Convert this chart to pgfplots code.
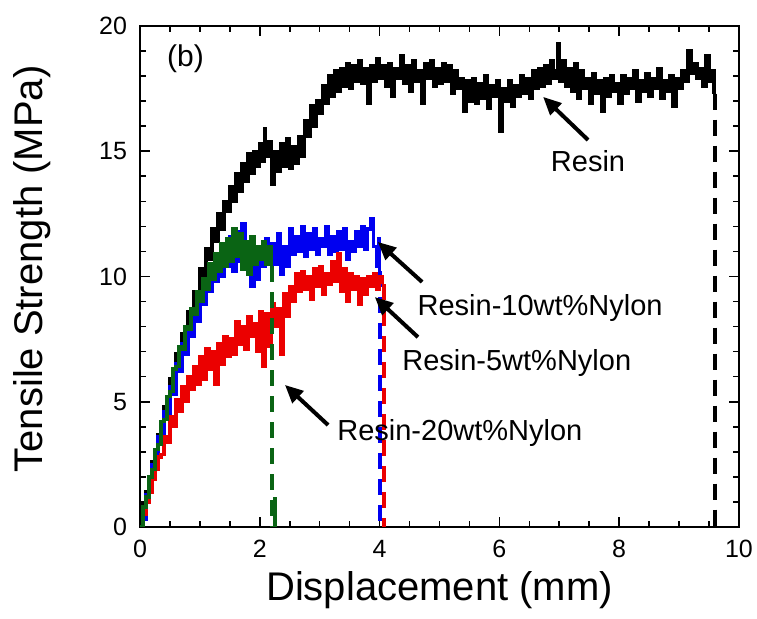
\documentclass[border=0pt]{standalone}
\usepackage{pgfplots}
\pgfplotsset{compat=1.18}
\usepackage{fontspec}
\setmainfont{Liberation Sans}
\usetikzlibrary{arrows.meta}
\definecolor{cblue}{RGB}{0,0,240}
\definecolor{cred}{RGB}{235,0,0}
\definecolor{cgreen}{RGB}{10,100,20}

\pgfplotstableread{
x y
0.00 0.0
0.03 0.9
0.05 0.4
0.10 1.4
0.15 1.6
0.20 2.6
0.25 2.9
0.30 3.7
0.35 3.9
0.40 4.8
0.45 4.9
0.50 5.9
0.55 5.8
0.60 6.9
0.65 6.8
0.70 7.7
0.75 7.5
0.80 8.6
0.85 8.3
0.90 9.4
0.95 9.1
1.00 10.3
1.05 9.9
1.10 11.1
1.15 10.7
1.20 11.9
1.25 11.4
1.30 12.5
1.35 11.9
1.40 13.0
1.45 12.6
1.50 13.6
1.55 13.0
1.60 14.1
1.65 13.4
1.70 14.5
1.75 13.8
1.80 14.9
1.85 14.1
1.90 15.0
1.95 14.4
2.00 15.3
2.05 14.6
2.08 15.9
2.10 14.8
2.15 15.4
2.20 13.7
2.25 15.0
2.30 14.2
2.35 15.3
2.40 14.4
2.45 15.5
2.50 14.3
2.55 15.2
2.60 14.5
2.65 15.6
2.70 14.8
2.75 16.2
2.80 15.6
2.85 16.8
2.90 16.0
2.95 17.0
3.00 16.5
3.05 17.6
3.10 16.9
3.15 18.0
3.20 17.2
3.25 18.2
3.30 17.4
3.35 18.3
3.40 17.6
3.45 18.5
3.50 17.5
3.55 18.4
3.60 17.8
3.65 18.6
3.70 17.7
3.75 18.3
3.80 16.9
3.85 18.4
3.90 17.8
3.95 18.7
4.00 17.9
4.05 18.4
4.10 17.6
4.15 18.5
4.20 17.2
4.25 18.3
4.30 17.9
4.35 18.8
4.40 17.7
4.45 18.4
4.50 17.4
4.55 18.6
4.60 17.8
4.65 18.2
4.70 16.9
4.75 18.5
4.80 17.9
4.85 18.6
4.90 17.6
4.95 18.3
5.00 17.7
5.05 18.5
5.10 17.8
5.15 18.4
5.20 17.3
5.25 18.2
5.30 17.5
5.35 17.9
5.40 16.6
5.45 17.8
5.50 17.0
5.55 17.9
5.60 16.9
5.65 17.7
5.70 17.1
5.75 18.0
5.80 16.7
5.85 17.6
5.90 17.2
5.95 17.8
6.00 15.8
6.05 17.5
6.10 17.0
6.15 17.8
6.20 16.8
6.25 17.6
6.30 17.2
6.35 18.0
6.40 17.3
6.45 17.9
6.50 17.1
6.55 18.2
6.60 17.5
6.65 18.3
6.70 17.6
6.75 18.4
6.80 17.7
6.85 18.6
6.90 17.9
6.95 18.2
6.98 19.3
7.00 17.8
7.05 18.6
7.10 17.6
7.15 18.3
7.20 17.4
7.25 18.5
7.30 17.1
7.35 18.2
7.40 17.5
7.45 17.9
7.50 16.9
7.55 18.1
7.60 17.3
7.65 17.8
7.70 16.6
7.75 17.9
7.80 17.2
7.85 18.0
7.90 17.4
7.95 17.7
8.00 16.9
8.05 18.0
8.10 17.3
8.15 17.9
8.20 17.5
8.25 18.2
8.30 17.0
8.35 17.8
8.40 17.4
8.45 18.1
8.50 17.2
8.55 17.9
8.60 17.5
8.65 18.3
8.70 17.1
8.75 17.8
8.80 17.4
8.85 18.0
8.90 16.8
8.95 17.9
9.00 17.5
9.05 18.2
9.10 17.8
9.15 19.0
9.20 18.1
9.25 18.5
9.30 17.9
9.35 18.3
9.40 17.6
9.45 18.8
9.50 17.8
9.55 18.2
9.58 17.3
}\resin

\pgfplotstableread{
x y
0.00 0.0
0.05 0.3
0.10 1.3
0.15 1.5
0.20 2.5
0.25 2.7
0.30 3.6
0.35 3.5
0.40 4.6
0.45 4.4
0.50 5.6
0.55 5.3
0.60 6.5
0.65 6.2
0.70 7.3
0.75 6.9
0.80 8.0
0.85 7.6
0.90 8.7
0.95 8.2
1.00 9.3
1.05 8.9
1.10 9.9
1.15 9.4
1.20 10.4
1.25 9.8
1.30 10.9
1.35 10.0
1.40 11.3
1.45 10.4
1.50 11.6
1.55 10.2
1.60 11.8
1.65 10.6
1.70 12.1
1.75 10.3
1.80 11.4
1.85 9.6
1.90 11.0
1.95 9.9
2.00 11.2
2.05 10.4
2.10 11.5
2.15 10.6
2.20 11.3
2.25 10.5
2.30 11.7
2.35 10.1
2.40 11.2
2.45 10.4
2.50 11.9
2.55 10.9
2.60 11.6
2.65 11.0
2.70 12.0
2.75 10.8
2.80 11.7
2.85 11.1
2.90 11.9
2.95 10.9
3.00 11.5
3.05 11.2
3.10 12.0
3.15 10.9
3.20 11.6
3.25 11.0
3.30 11.8
3.35 11.1
3.40 11.9
3.45 10.7
3.50 11.4
3.55 11.0
3.60 11.8
3.65 11.2
3.70 12.0
3.75 11.1
3.80 11.9
3.85 12.3
3.90 11.2
3.95 10.4
3.98 11.5
4.00 10.2
}\tenpc

\pgfplotstableread{
x y
0.00 0.0
0.05 0.5
0.10 1.0
0.15 1.4
0.20 1.9
0.25 2.3
0.30 2.8
0.35 2.9
0.40 3.6
0.45 3.4
0.50 4.4
0.55 4.0
0.60 5.1
0.65 4.6
0.70 5.6
0.75 5.0
0.80 6.0
0.85 5.5
0.90 6.4
0.95 5.7
1.00 6.8
1.05 5.9
1.10 7.1
1.15 6.3
1.20 7.0
1.25 5.7
1.30 7.3
1.35 6.5
1.40 7.6
1.45 6.8
1.50 7.5
1.55 6.9
1.60 8.2
1.65 7.3
1.70 8.0
1.75 7.1
1.80 8.4
1.85 7.6
1.90 8.1
1.95 7.0
2.00 8.6
2.05 6.4
2.10 8.5
2.15 7.2
2.20 8.9
2.25 8.0
2.30 8.7
2.35 6.9
2.40 9.3
2.45 8.4
2.50 9.6
2.55 9.0
2.60 10.1
2.65 9.4
2.70 10.2
2.75 9.5
2.80 10.0
2.85 9.1
2.90 10.3
2.95 9.6
3.00 10.4
3.05 9.3
3.10 10.1
3.15 9.7
3.20 10.6
3.25 9.8
3.30 10.9
3.35 9.4
3.40 10.3
3.45 9.0
3.50 10.1
3.55 9.5
3.60 10.0
3.65 8.9
3.70 9.9
3.75 9.3
3.80 10.0
3.85 9.6
3.90 10.1
3.95 9.5
4.00 10.0
4.05 9.7
}\fivepc

\pgfplotstableread{
x y
0.00 0.0
0.05 0.8
0.10 1.2
0.15 2.0
0.20 2.3
0.25 3.1
0.30 3.3
0.35 4.2
0.40 4.3
0.45 5.2
0.50 5.4
0.55 6.3
0.60 6.4
0.65 7.2
0.70 7.1
0.75 8.0
0.80 7.9
0.85 8.7
0.90 8.5
0.95 9.4
1.00 9.0
1.05 9.9
1.10 9.5
1.15 10.5
1.20 9.9
1.25 10.9
1.30 10.2
1.35 11.3
1.40 10.4
1.45 11.5
1.50 10.6
1.55 11.9
1.60 10.8
1.65 11.7
1.70 10.3
1.75 11.4
1.80 10.1
1.85 11.6
1.90 10.5
1.95 11.2
2.00 10.7
2.05 11.4
2.10 10.5
2.15 11.2
2.20 10.4
}\twentypc

\begin{document}
\begin{tikzpicture}
\begin{axis}[
  scale only axis,
  width=299.5pt, height=250.5pt,
  xmin=0, xmax=10, ymin=0, ymax=20,
  xtick={0,2,...,10}, ytick={0,5,...,20},
  minor x tick num=3, minor y tick num=4,
  tick align=inside,
  major tick length=5pt, minor tick length=3pt,
  axis line style={line width=1pt},
  every tick/.style={black, line width=0.8pt},
  /pgf/number format/assume math mode=true,
  ticklabel style={font=\fontsize{12.5}{15}\selectfont},
  xticklabel style={yshift=-3pt},
  yticklabel style={xshift=-3pt},
  xlabel={Displacement (mm)},
  ylabel={Tensile Strength (MPa)},
  label style={font=\fontsize{20}{24}\selectfont},
  xlabel style={at={(axis description cs:0.5,-0.126)}, anchor=center},
  ylabel style={at={(axis description cs:-0.18,0.515)}, anchor=center, rotate=0},
  clip=true,
]
\addplot[const plot, black, line width=1.7pt] table[x=x,y=y] {\resin};
\addplot[black, line width=2pt, dash pattern=on 8pt off 5pt] coordinates {(9.6,17.3) (9.6,0)};
\addplot[const plot, cblue, line width=1.7pt] table[x=x,y=y] {\tenpc};
\addplot[cblue, line width=2pt, dash pattern=on 8pt off 5pt] coordinates {(4.0,10.2) (4.0,0)};
\addplot[const plot, cred, line width=1.7pt] table[x=x,y=y] {\fivepc};
\addplot[cred, line width=2pt, dash pattern=on 8pt off 5pt] coordinates {(4.07,9.7) (4.07,0)};
\addplot[const plot, cgreen, line width=1.7pt] table[x=x,y=y] {\twentypc};
\addplot[cgreen, line width=2pt, dash pattern=on 8pt off 5pt] coordinates {(2.2,10.4) (2.2,0)};
\addplot[cgreen, line width=2pt] coordinates {(2.26,0) (2.26,1.2)};

\node[font=\fontsize{15}{18}\selectfont] at (axis cs:0.76,18.7) {(b)};
\node[font=\fontsize{14.5}{17}\selectfont] at (axis cs:7.48,14.6) {Resin};
\node[font=\fontsize{14.5}{17}\selectfont] at (axis cs:6.68,8.75) {Resin-10wt\%Nylon};
\node[font=\fontsize{14.5}{17}\selectfont] at (axis cs:6.29,6.55) {Resin-5wt\%Nylon};
\node[font=\fontsize{14.5}{17}\selectfont] at (axis cs:5.34,3.75) {Resin-20wt\%Nylon};
\draw[line width=2pt, -{Triangle[length=9pt,width=8pt]}] (axis cs:7.48,15.45) -- (axis cs:6.73,17.17);
\draw[line width=2pt, -{Triangle[length=9pt,width=8pt]}] (axis cs:4.71,9.78) -- (axis cs:3.97,11.38);
\draw[line width=2pt, -{Triangle[length=9pt,width=8pt]}] (axis cs:4.64,7.58) -- (axis cs:3.92,9.18);
\draw[line width=2pt, -{Triangle[length=9pt,width=8pt]}] (axis cs:3.14,4.07) -- (axis cs:2.42,5.67);
\end{axis}
\pgfresetboundingbox
\path ([xshift=-70pt,yshift=-46pt]current axis.south west) rectangle ([xshift=9pt,yshift=13pt]current axis.north east);
\end{tikzpicture}
\end{document}
